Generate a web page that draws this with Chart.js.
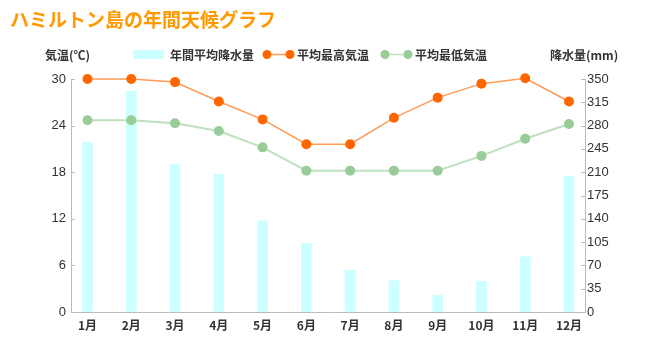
<!DOCTYPE html>
<html>
<head>
<meta charset="utf-8">
<script src="https://cdn.jsdelivr.net/npm/chart.js@4/dist/chart.umd.min.js"></script>
<style>
html,body{margin:0;padding:0;background:#fff;}
#wrap{position:relative;width:650px;height:357px;}
</style>
</head>
<body>
<div id="wrap"><canvas id="c" width="650" height="357"></canvas></div>
<script>
const months = ['1月','2月','3月','4月','5月','6月','7月','8月','9月','10月','11月','12月'];
const rainfall = [255, 332, 221, 207, 137, 103, 63, 47, 25, 46, 83, 204];
const maxTemp = [30, 30, 29.6, 27.1, 24.8, 21.6, 21.6, 25.0, 27.6, 29.4, 30.1, 27.1];
const minTemp = [24.7, 24.7, 24.3, 23.3, 21.2, 18.2, 18.2, 18.2, 18.2, 20.1, 22.3, 24.2];
const tempTicks = [0, 6, 12, 18, 24, 30];
const rainTicks = [0, 35, 70, 105, 140, 175, 210, 245, 280, 315, 350];
const titleText = 'ハミルトン島の年間天候グラフ';
const leftAxisTitle = '気温(℃)';
const rightAxisTitle = '降水量(mm)';
const seriesNames = ['年間平均降水量', '平均最高気温', '平均最低気温'];

const JP = '"Noto Sans CJK JP", "Noto Sans", sans-serif';
const toXY = arr => arr.map((v, i) => ({x: i + 1, y: v}));

const decor = {
  id: 'decor',
  afterDraw(chart) {
    const ctx = chart.ctx;
    const ca = chart.chartArea;
    ctx.save();
    // inner tick marks
    ctx.strokeStyle = '#bbbbbb';
    ctx.lineWidth = 1;
    const yL = chart.scales.y, yR = chart.scales.y2;
    yL.ticks.forEach(t => {
      const py = Math.round(yL.getPixelForValue(t.value)) + 0.5;
      ctx.beginPath(); ctx.moveTo(ca.left, py); ctx.lineTo(ca.left + 4, py); ctx.stroke();
    });
    yR.ticks.forEach(t => {
      const py = Math.round(yR.getPixelForValue(t.value)) + 0.5;
      ctx.beginPath(); ctx.moveTo(ca.right - 4, py); ctx.lineTo(ca.right, py); ctx.stroke();
    });
    // title
    ctx.fillStyle = '#FF9900';
    ctx.font = 'bold 19px ' + JP;
    ctx.textBaseline = 'middle';
    ctx.textAlign = 'left';
    ctx.fillText(titleText, 10, 20);
    // axis titles
    ctx.fillStyle = '#333333';
    ctx.font = 'bold 12px ' + JP;
    ctx.fillText(leftAxisTitle, 45, 55);
    ctx.fillText(rightAxisTitle, 550, 55);
    // legend
    const ds = chart.data.datasets;
    ctx.fillStyle = ds[0].backgroundColor;
    ctx.fillRect(133, 50, 31, 9);
    ctx.fillStyle = '#333333';
    ctx.fillText(ds[0].label, 170, 55);
    const drawMarker = (x1, x2, d) => {
      ctx.strokeStyle = d.borderColor;
      ctx.lineWidth = 1.5;
      ctx.beginPath(); ctx.moveTo(x1, 54.5); ctx.lineTo(x2, 54.5); ctx.stroke();
      ctx.fillStyle = d.pointBackgroundColor;
      [x1, x2].forEach(x => { ctx.beginPath(); ctx.arc(x, 54.5, 4.5, 0, Math.PI * 2); ctx.fill(); });
    };
    drawMarker(267, 290, ds[1]);
    ctx.fillStyle = '#333333';
    ctx.fillText(ds[1].label, 297, 55);
    drawMarker(385, 408, ds[2]);
    ctx.fillStyle = '#333333';
    ctx.fillText(ds[2].label, 415, 55);
    ctx.restore();
  }
};

new Chart(document.getElementById('c'), {
  data: {
    datasets: [
      {
        type: 'bar', label: seriesNames[0], data: toXY(rainfall), yAxisID: 'y2',
        backgroundColor: '#CCFFFF', barThickness: 10, order: 3
      },
      {
        type: 'line', label: seriesNames[1], data: toXY(maxTemp), yAxisID: 'y',
        borderColor: '#FF9A55', borderWidth: 1.5, pointBackgroundColor: '#FF6600',
        pointBorderWidth: 0, pointRadius: 5, tension: 0, order: 1, clip: false
      },
      {
        type: 'line', label: seriesNames[2], data: toXY(minTemp), yAxisID: 'y',
        borderColor: '#BFE0BF', borderWidth: 2, pointBackgroundColor: '#99CC99',
        pointBorderWidth: 0, pointRadius: 5, tension: 0, order: 2, clip: false
      }
    ]
  },
  options: {
    responsive: false,
    animation: false,
    layout: {padding: {top: 79, left: 0, right: 0, bottom: 0}},
    plugins: {legend: {display: false}, tooltip: {enabled: false}},
    scales: {
      x: {
        type: 'linear', min: 0.623, max: 12.366, offset: false,
        afterBuildTicks: s => { s.ticks = months.map((m, i) => ({value: i + 1})); },
        afterFit: s => { s.height = 45; },
        ticks: {
          autoSkip: false, maxRotation: 0, padding: 6,
          color: '#333333', font: {family: JP, size: 12, weight: 'bold'},
          callback: v => months[v - 1] || ''
        },
        grid: {display: true, drawOnChartArea: false, drawTicks: false},
        border: {color: '#bbbbbb'}
      },
      y: {
        position: 'left', min: 0, max: 30,
        afterBuildTicks: s => { s.ticks = tempTicks.map(v => ({value: v})); },
        afterFit: s => { s.width = 71; },
        ticks: {padding: 5, color: '#333333', font: {family: '"Liberation Sans", Arial, sans-serif', size: 13}},
        grid: {drawOnChartArea: false, drawTicks: false},
        border: {color: '#bbbbbb'}
      },
      y2: {
        position: 'right', min: 0, max: 350,
        afterBuildTicks: s => { s.ticks = rainTicks.map(v => ({value: v})); },
        afterFit: s => { s.width = 65; },
        ticks: {padding: 2, color: '#333333', font: {family: '"Liberation Sans", Arial, sans-serif', size: 13}},
        grid: {drawOnChartArea: false, drawTicks: false},
        border: {color: '#bbbbbb'}
      }
    }
  },
  plugins: [decor]
});
</script>
</body>
</html>
